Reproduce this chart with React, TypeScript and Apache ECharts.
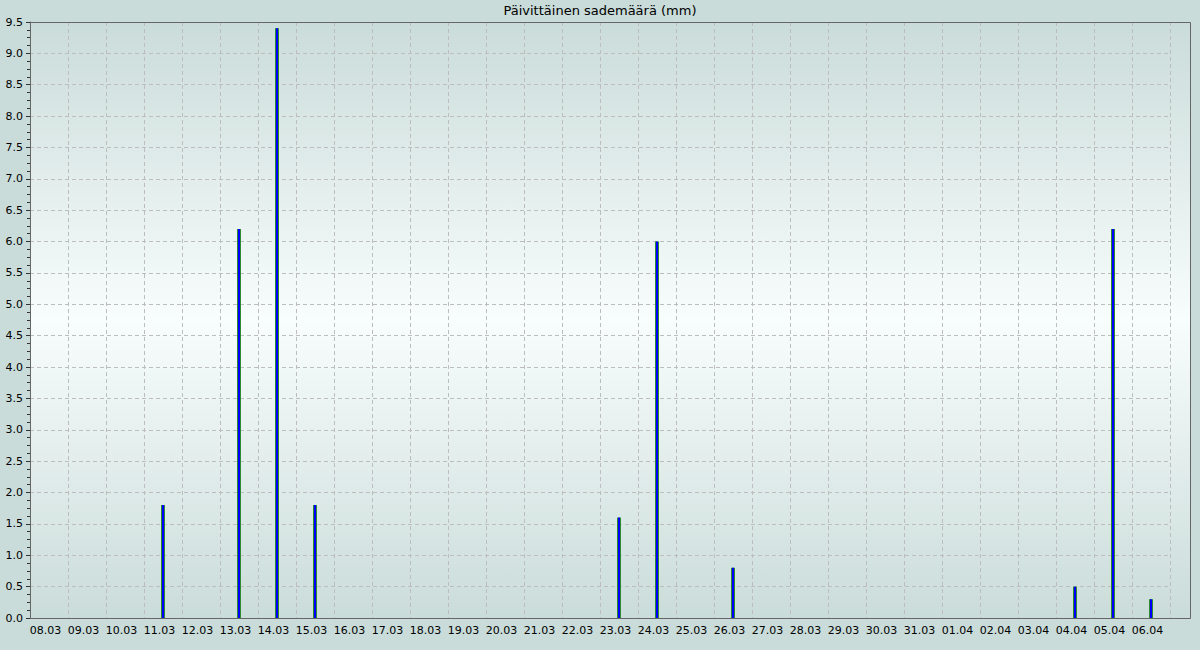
import React, { useEffect, useRef } from "react";
import * as echarts from "echarts";

const categories = [
  "08.03", "09.03", "10.03", "11.03", "12.03", "13.03", "14.03", "15.03", "16.03", "17.03",
  "18.03", "19.03", "20.03", "21.03", "22.03", "23.03", "24.03", "25.03", "26.03", "27.03",
  "28.03", "29.03", "30.03", "31.03", "01.04", "02.04", "03.04", "04.04", "05.04", "06.04",
];
const rain = [
  0, 0, 0, 1.8, 0, 6.2, 9.4, 1.8, 0, 0,
  0, 0, 0, 0, 0, 1.6, 6.0, 0, 0.8, 0,
  0, 0, 0, 0, 0, 0, 0, 0.5, 6.2, 0.3,
];
const title = "Päivittäinen sademäärä (mm)";

const L = 30, R = 1190, T = 22, B = 618;

export default function App() {
  const ref = useRef<HTMLDivElement>(null);
  useEffect(() => {
    if (!ref.current) return;
    const chart = echarts.init(ref.current, null, { renderer: "svg" });
    const barData = rain.map((v) => (v > 0 ? v : "-"));
    const gridLine = { color: "#bdbdbd", type: [4, 3], width: 1 };
    chart.setOption({
      animation: false,
      backgroundColor: "#c9dcd9",
      textStyle: { fontFamily: "DejaVu Sans" },
      title: {
        text: title,
        left: "center",
        top: -1,
        textStyle: { fontSize: 13, fontWeight: "normal", color: "#000", fontFamily: "DejaVu Sans" },
      },
      graphic: [
        {
          type: "rect",
          z: -10,
          silent: true,
          shape: { x: L, y: T, width: R - L, height: B - T },
          style: {
            fill: new echarts.graphic.LinearGradient(0, 0, 0, 1, [
              { offset: 0, color: "#cadcd9" },
              { offset: 0.5, color: "#f8fdfd" },
              { offset: 1, color: "#cadcd9" },
            ]),
          },
        },
        {
          type: "rect",
          z: 100,
          silent: true,
          shape: { x: L + 0.5, y: T + 0.5, width: R - L, height: B - T },
          style: { fill: "none", stroke: "#666", lineWidth: 1 },
        },
      ],
      grid: { left: L, right: 1200 - 1170, top: T, bottom: 650 - B, containLabel: false },
      xAxis: [
        {
          type: "category",
          data: categories,
          boundaryGap: true,
          axisLine: { show: true, lineStyle: { color: "#666" } },
          axisTick: { show: false, interval: 0 },
          axisLabel: { interval: 0, color: "#000", fontSize: 11, margin: 7, padding: [0, 7, 0, 0], fontFamily: "DejaVu Sans" },
          splitLine: { show: true, interval: 0, lineStyle: gridLine },
        },
        {
          type: "category",
          data: categories,
          boundaryGap: true,
          show: false,
        },
      ],
      yAxis: {
        type: "value",
        min: 0,
        max: 9.5,
        interval: 0.5,
        axisLine: { show: true, lineStyle: { color: "#666" } },
        axisTick: { show: true, length: 4, lineStyle: { color: "#333" } },
        minorTick: { show: true, splitNumber: 4, length: 3, lineStyle: { color: "#333" } },
        axisLabel: {
          color: "#000",
          fontSize: 11,
          margin: 7,
          fontFamily: "DejaVu Sans",
          formatter: (v: number) => v.toFixed(1),
        },
        splitLine: { show: true, lineStyle: gridLine },
      },
      series: [
        {
          type: "bar",
          xAxisIndex: 0,
          data: barData,
          barWidth: 4,
          itemStyle: { color: "#2e8b2e" },
        },
        {
          type: "bar",
          xAxisIndex: 1,
          data: barData,
          barWidth: 2,
          itemStyle: { color: "#0000ff" },
        },
      ],
    });
    return () => chart.dispose();
  }, []);
  return <div ref={ref} style={{ width: 1200, height: 650, position: "absolute", left: 0, top: 0 }} />;
}
